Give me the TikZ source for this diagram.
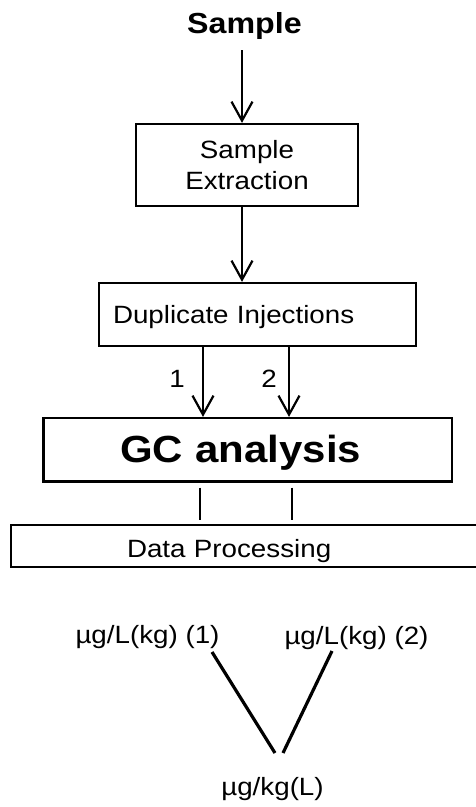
\documentclass[tikz,border=0pt]{standalone}
\usepackage{fontspec}
\setmainfont[FakeStretch=1.11]{Liberation Sans}
\usetikzlibrary{arrows.meta,calc}
\begin{document}
\begin{tikzpicture}[x=1pt,y=-1pt,
  box/.style={draw, line width=2.2pt, inner ysep=0pt, font=\fontsize{25}{31}\selectfont},
  txt/.style={inner sep=0pt, font=\fontsize{25}{31}\selectfont},
  arr/.style={line width=2.2pt, -{Straight Barb[length=19pt,width=21pt]}},
  ln/.style={line width=2.2pt},
  vline/.style={line width=3.2pt}]
\useasboundingbox (0,0) rectangle (476,807);
\clip (0,0) rectangle (476,807);

% title
\node[txt, font=\fontsize{29}{34}\selectfont\bfseries, anchor=base] (sample) at (244.5,33) {Sample};

% boxes
\node[box, minimum width=222pt, minimum height=82pt, inner xsep=0pt, align=center] (ext) at (247,165) {Sample\\Extraction};
\node[box, minimum height=63pt, inner xsep=14pt, text width=289pt, align=left, text height=17pt, text depth=0pt] (dup) at (257.5,314.5) {Duplicate Injections};
\node[box, minimum height=63.5pt, inner xsep=76.5pt, text width=255.5pt, align=left, text height=24.5pt, text depth=0pt, font=\fontsize{37.8}{44}\selectfont\bfseries] (gc) at (247.75,449.75) {GC analysis};
\node[box, minimum height=42pt, inner xsep=116pt, text width=247pt, align=left, text height=22pt, text depth=0pt] (dp) at (250.5,546) {Data Processing};

% arrows
\coordinate (a0) at (242,50);
\draw[arr] (a0) -- (a0 |- ext.north);
\draw[arr] (ext.south -| a0) -- (dup.north -| a0);
\coordinate (c1) at (203,0);
\coordinate (c2) at (289,0);
\draw[arr] (dup.south -| c1) -- (gc.north -| c1);
\draw[arr] (dup.south -| c2) -- (gc.north -| c2);
\node[txt, anchor=base] (n1) at (177,387) {1};
\node[txt, anchor=base] (n2) at (269,387) {2};

% GC -> data processing
\coordinate (d1) at (200,0);
\coordinate (d2) at (292,0);
\draw[ln, shorten <=5pt, shorten >=4pt] (gc.south -| d1) -- (dp.north -| d1);
\draw[ln, shorten <=5pt, shorten >=4pt] (gc.south -| d2) -- (dp.north -| d2);

% results
\node[txt, anchor=base] (l1) at (147.5,643) {µg/L(kg) (1)};
\node[txt, anchor=base] (l2) at (356.5,644) {µg/L(kg) (2)};
\node[txt, anchor=base] (res) at (272.5,795) {µg/kg(L)};
\coordinate (v1a) at (212,652);
\coordinate (v1b) at (275,753);
\coordinate (v2a) at (332,651);
\coordinate (v2b) at (283,753);
\draw[vline] (v1a) -- (v1b);
\draw[vline] (v2a) -- (v2b);
\end{tikzpicture}
\end{document}
